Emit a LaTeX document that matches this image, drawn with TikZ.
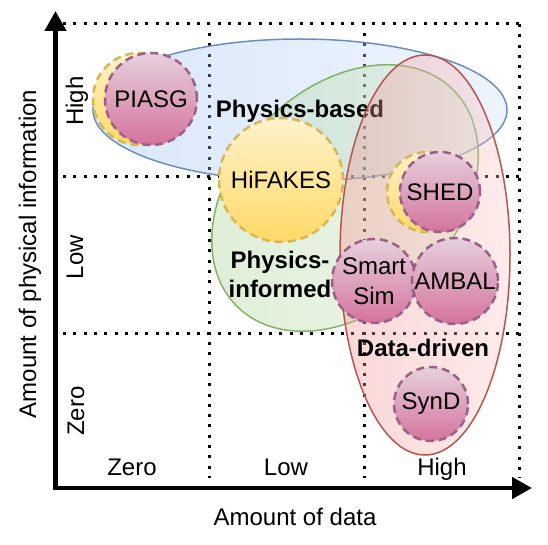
\documentclass[tikz,border=0pt]{standalone}
\usepackage{fontspec}
\setmainfont{Liberation Sans}
\usetikzlibrary{arrows.meta, shapes.geometric}

\definecolor{yellowtop}{HTML}{FFF2CC}
\definecolor{yellowbot}{HTML}{FFD966}
\definecolor{yellowline}{HTML}{D6B656}
\definecolor{pinktop}{HTML}{E6D0DE}
\definecolor{pinkbot}{HTML}{D5739D}
\definecolor{pinkline}{HTML}{996185}
\definecolor{blueleft}{RGB}{149,189,241}
\definecolor{blueright}{RGB}{206,224,249}
\definecolor{blueline}{HTML}{6C8EBF}
\definecolor{greenleft}{RGB}{161,206,138}
\definecolor{greenright}{RGB}{212,235,201}
\definecolor{greenline}{HTML}{82B366}
\definecolor{redleft}{RGB}{242,140,140}
\definecolor{redright}{RGB}{249,198,198}
\definecolor{redline}{HTML}{B85450}

\tikzset{
    quadchart/.style={x=1pt, y=-1pt, font=\fontsize{24}{28}\selectfont},
    gridline/.style={line width=3pt, dash pattern=on 3pt off 7.3pt},
    axisline/.style={line width=4.5pt, {Triangle[length=20pt,width=21pt]}-{Triangle[length=20pt,width=21pt]}},
    family/.style={ellipse, inner sep=0pt, line width=1.5pt, fill opacity=0.35},
    familylabel/.style={font=\fontsize{24}{29}\selectfont\bfseries, align=center},
    method/.style={circle, inner sep=0pt, line width=2.5pt, dash pattern=on 8pt off 5pt,
        align=center, font=\fontsize{24}{30}\selectfont},
    yellowmethod/.style={method, draw=yellowline, top color=yellowtop, bottom color=yellowbot},
    pinkmethod/.style={method, draw=pinkline, top color=pinktop, bottom color=pinkbot},
    ticklabel/.style={anchor=base},
}

\begin{document}
\begin{tikzpicture}[quadchart]
    \useasboundingbox (0,0) rectangle (548,545);

    % dotted quadrant grid
    \foreach \y in {24,177,333}
        \draw[gridline] (63,\y) -- (520,\y);
    \foreach \x/\t in {209/33, 364/33, 519/24}
        \draw[gridline] (\x,\t) -- (\x,478);

    % method families
    \node[family, draw=blueline, left color=blueleft, right color=blueright,
        minimum width=414pt, minimum height=142pt] (physbased) at (300,110) {};
    \node[family, draw=greenline, left color=greenleft, right color=greenright,
        minimum width=306pt, minimum height=220pt, rotate=45] (physinformed) at (345,198) {};
    \node[familylabel, anchor=base] (physbasedlabel) at (300,118) {Physics-based};
    \node[family, draw=redline, left color=redleft, right color=redright,
        minimum width=170pt, minimum height=400pt] (datadriven) at (425,255) {};
    \node[familylabel] (physinformedlabel) at (280,274) {Physics-\\informed};
    \node[familylabel, anchor=base] (datadrivenlabel) at (423,356) {Data-driven};

    % methods
    \node[yellowmethod, minimum size=92pt] (piasgback) at (139,99) {};
    \node[pinkmethod, minimum size=92pt]   (piasg)     at (151,99) {PIASG};
    \node[yellowmethod, minimum size=124pt] (hifakes)  at (281,180) {HiFAKES};
    \node[yellowmethod, minimum size=80pt] (shedback)  at (427,192) {};
    \node[pinkmethod, minimum size=80pt]   (shed)      at (440,192) {SHED};
    \node[pinkmethod, minimum size=84pt]   (smartsim)  at (374,281) {Smart\\Sim};
    \node[pinkmethod, minimum size=86pt]   (ambal)     at (455,281) {AMBAL};
    \node[pinkmethod, minimum size=74pt]   (synd)      at (431,404) {SynD};

    % axes
    \coordinate (origin) at (55.5,488);
    \coordinate (xend)   at (532,488);
    \coordinate (yend)   at (55.5,11);
    \draw[axisline] (yend) -- (origin) -- (xend);

    \node[ticklabel] (xzero) at (132,475) {Zero};
    \node[ticklabel] (xlow)  at (286,475) {Low};
    \node[ticklabel] (xhigh) at (442,475) {High};
    \node[ticklabel, rotate=90] (yhigh) at (83,101) {High};
    \node[ticklabel, rotate=90] (ylow)  at (83,257) {Low};
    \node[ticklabel, rotate=90] (yzero) at (84,411) {Zero};

    \node[anchor=base] (xlabel) at (295,525) {Amount of data};
    \node[anchor=base, rotate=90] (ylabel) at (36,254) {Amount of physical information};
\end{tikzpicture}
\end{document}
